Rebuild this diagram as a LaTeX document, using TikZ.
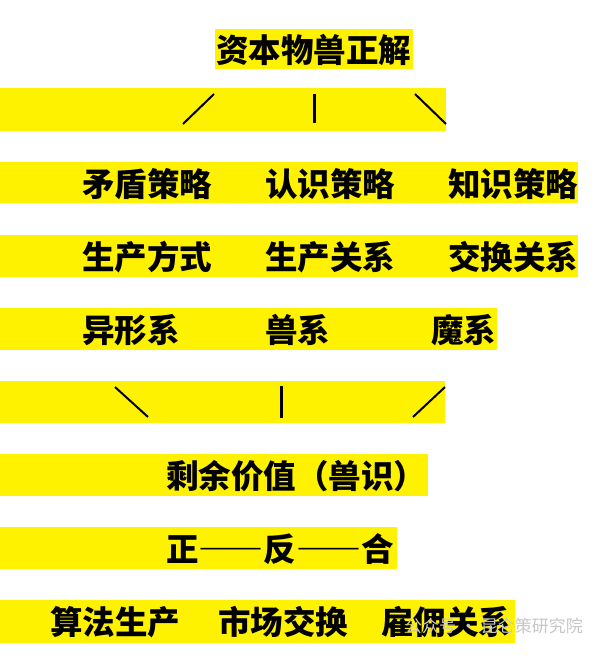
\documentclass[tikz,border=0pt]{standalone}
\usepackage{fontspec}
\newfontfamily\cjk{Noto Sans CJK SC}
\newfontfamily\cjkwide{Noto Sans CJK SC}[RawFeature=+fwid]
\tikzset{
  bar/.style={fill=yellow},
  word/.style={font=\cjk\bfseries\fontsize{32.5}{32.5}\selectfont, inner sep=0pt, anchor=west},
  stroke/.style={line width=2pt}
}
\begin{document}
\begin{tikzpicture}[x=1pt,y=-1pt]
  \useasboundingbox[fill=white] (0,0) rectangle (600,660);
  % yellow bars
  \fill[bar] (215,29) rectangle (413,69);
  \fill[bar] (0,88) rectangle (446,131);
  \fill[bar] (0,162) rectangle (578,203);
  \fill[bar] (0,235) rectangle (578,277);
  \fill[bar] (0,308) rectangle (497,350);
  \fill[bar] (0,381) rectangle (445,423);
  \fill[bar] (0,454) rectangle (428,496);
  \fill[bar] (0,527) rectangle (397,569);
  \fill[bar] (0,600) rectangle (515,643);

  \node[word] (title) at (216,50) {资本物兽正解};

  \coordinate (l1a) at (183,124); \coordinate (l1b) at (214,94);
  \coordinate (m1a) at (314,94);  \coordinate (m1b) at (314,123);
  \coordinate (r1a) at (415,94);  \coordinate (r1b) at (446,124);
  \draw[stroke] (l1a) -- (l1b);
  \draw[stroke, line width=3pt] (m1a) -- (m1b);
  \draw[stroke] (r1a) -- (r1b);

  \node[word] (maodun) at (82,184) {矛盾策略};
  \node[word] (renshi) at (265,184) {认识策略};
  \node[word] (zhishi) at (448,184) {知识策略};

  \node[word] (fangshi) at (82,257) {生产方式};
  \node[word] (shengchan) at (265,257) {生产关系};
  \node[word] (jiaohuan) at (448,257) {交换关系};

  \node[word] (yixing) at (82,330) {异形系};
  \node[word] (shou) at (265,330) {兽系};
  \node[word] (mo) at (431,330) {魔系};

  \coordinate (l2a) at (115,387); \coordinate (l2b) at (148,417);
  \coordinate (m2a) at (281,386); \coordinate (m2b) at (281,418);
  \coordinate (r2a) at (413,417); \coordinate (r2b) at (445,387);
  \draw[stroke] (l2a) -- (l2b);
  \draw[stroke, line width=3pt] (m2a) -- (m2b);
  \draw[stroke] (r2a) -- (r2b);

  \node[word] (shengyu) at (166,476) {剩余价值（兽识）};
  \node[word, font=\cjkwide\bfseries\fontsize{32.5}{32.5}\selectfont] (zheng) at (166,549) {正——反——合};

  \node[word] (suanfa) at (50,622) {算法生产};
  \node[word] (shichang) at (218,622) {市场交换};
  \node[word] (guyong) at (381,622) {雇佣关系};

  \node[font=\cjk\fontsize{17}{17}\selectfont, text=black!22, anchor=west, inner sep=0pt]
    (mark) at (405,626) {公众号 · 昆仑策研究院};
\end{tikzpicture}
\end{document}
